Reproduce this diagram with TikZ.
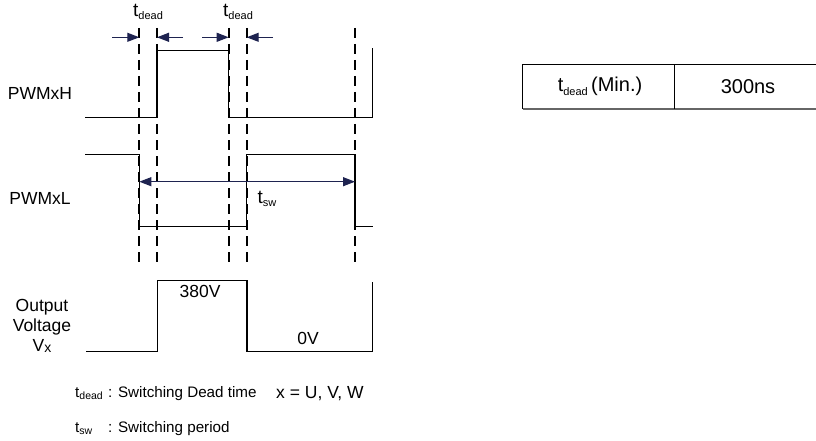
\documentclass[tikz,border=0pt]{standalone}
\usepackage{fontspec}
\setmainfont{Liberation Sans}
\usetikzlibrary{arrows.meta}
\definecolor{navy}{HTML}{1E2350}
\newcommand\tsub[3]{#1\raisebox{-0.25ex}{\fontsize{#3}{#3}\selectfont #2}}
\begin{document}
\begin{tikzpicture}[x=1pt,y=-1pt,
  wave/.style={line width=1.1pt,black},
  guide/.style={line width=1.8pt,black,dash pattern=on 10pt off 6pt},
  dimarrow/.style={line width=1.1pt,navy,-{Triangle[length=12pt,width=9pt]}},
  dimboth/.style={line width=1.1pt,navy,{Triangle[length=12pt,width=9pt]}-{Triangle[length=12pt,width=9pt]}},
  lbl/.style={inner sep=0pt,font=\fontsize{17.5}{20}\selectfont},
  small/.style={inner sep=0pt,font=\fontsize{15.2}{18}\selectfont},
  tbl/.style={inner sep=0pt,font=\fontsize{20}{24}\selectfont},
  tlab/.style={inner sep=0pt,font=\fontsize{19}{22}\selectfont}]
\useasboundingbox (0,0) rectangle (816,441);
% guide lines
\foreach \gx/\gn in {139.3/ga,157/gb,228.7/gc,246.7/gd,355/ge}{
  \coordinate (\gn t) at (\gx,28);
  \coordinate (\gn b) at (\gx,262);
  \draw[guide] (\gn t) -- (\gn b);
}
% PWMxH
\draw[wave] (85,117.3) -- (157,117.3) -- (157,50.7) -- (228.7,50.7) -- (228.7,117.3) -- (372.7,117.3) -- (372.7,47.7);
% PWMxL
\draw[wave] (85,154.3) -- (139.3,154.3) -- (139.3,226.7) -- (246.7,226.7) -- (246.7,154.3) -- (355,154.3) -- (355,226.7) -- (372.7,226.7);
% Vx
\draw[wave] (86,351.7) -- (157.3,351.7) -- (157.3,280.7) -- (247,280.7) -- (247,351.7) -- (372.3,351.7) -- (372.3,281.7);
% dead time arrows
\coordinate (a1s) at (112,37.3);  \coordinate (a1e) at (139.3,37.3);
\coordinate (a2s) at (183,37.3);  \coordinate (a2e) at (157,37.3);
\coordinate (a3s) at (202,37.3);  \coordinate (a3e) at (228.7,37.3);
\coordinate (a4s) at (273,37.3);  \coordinate (a4e) at (246.7,37.3);
\draw[dimarrow] (a1s) -- (a1e);
\draw[dimarrow] (a2s) -- (a2e);
\draw[dimarrow] (a3s) -- (a3e);
\draw[dimarrow] (a4s) -- (a4e);
\coordinate (swl) at (139.3,181.7); \coordinate (swr) at (355,181.7);
\draw[dimboth] (swl) -- (swr);
% labels
\node[tlab] (td1) at (148,12) {\tsub{t}{dead}{11}};
\node[tlab] (td2) at (238,12) {\tsub{t}{dead}{11}};
\node[tlab] (tsw) at (267,199) {\tsub{t}{sw}{11}};
\node[lbl] (pwmh) at (40,93) {PWMxH};
\node[lbl] (pwml) at (40,198) {PWMxL};
\node[lbl,align=center] (vout) at (42,326) {Output\\Voltage\\V\raisebox{-0.1ex}{\fontsize{14}{14}\selectfont x}};
\node[lbl] (v380) at (200,291.5) {380V};
\node[lbl] (v0) at (308,338) {0V};
% legend
\node[small,anchor=west] (l1) at (75,394) {\tsub{t}{dead}{10.5}};
\node[small,anchor=west] (l1b) at (108,394) {: Switching Dead time};
\node[small,anchor=west,font=\fontsize{17.5}{20}\selectfont] (l1c) at (276,393.5) {x = U, V, W};
\node[small,anchor=west] (l2) at (75,429) {\tsub{t}{sw}{10.5}};
\node[small,anchor=west] (l2b) at (108,429) {: Switching period};
% table
\draw[line width=1.1pt] (816,64.3) -- (522.7,64.3) -- (522.7,109.3);
\draw[line width=1.6pt,black!60] (522.7,109.3) -- (816,109.3);
\draw[line width=1.1pt] (674.3,64.3) -- (674.3,109.3);
\node[tbl] (tc1) at (600,86.7) {t\raisebox{-0.3ex}{\fontsize{11}{11}\selectfont dead}\,(Min.)};
\node[tbl] (tc2) at (748,86.7) {300ns};
\end{tikzpicture}
\end{document}
